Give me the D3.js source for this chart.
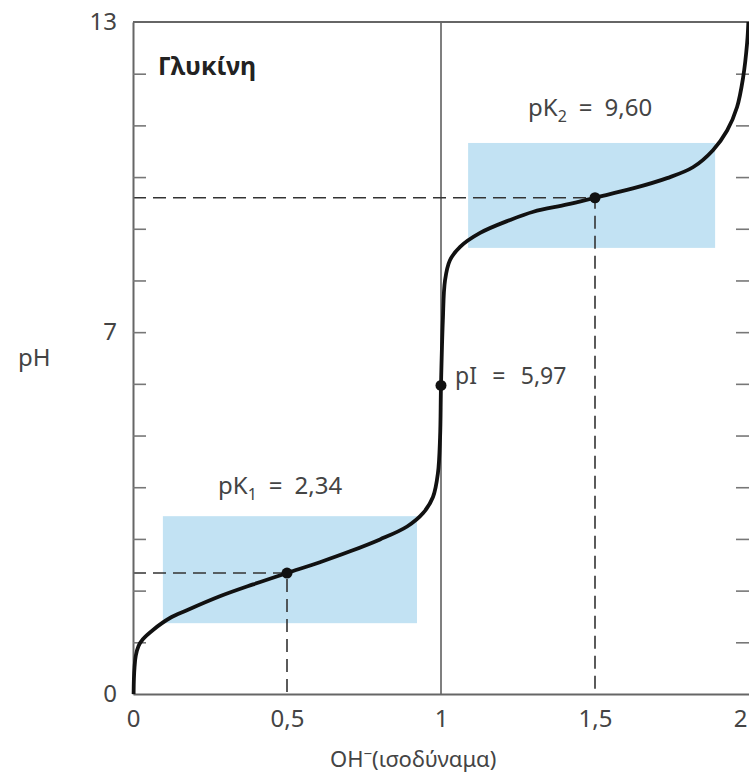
<!DOCTYPE html>
<html>
<head>
<meta charset="utf-8">
<script src="https://cdn.jsdelivr.net/npm/d3@7"></script>
<style>
  body { margin: 0; background: #fff; }
  text { font-family: "Noto Sans", "Open Sans", sans-serif; fill: #444; }
</style>
</head>
<body>
<script>

// titration curve of glycine
var curveOH = [0.002, 0.003, 0.005, 0.009, 0.018, 0.032, 0.065, 0.12, 0.175, 0.282, 0.39, 0.5, 0.607, 0.705, 0.802, 0.89, 0.942, 0.974, 0.990, 0.997, 1.0, 1.006, 1.013, 1.029, 1.062, 1.127, 1.224, 1.30, 1.41, 1.5, 1.623, 1.734, 1.818, 1.883, 1.929, 1.961, 1.981, 1.994, 1.998];
var curvePH = [0, 0.3, 0.52, 0.74, 0.93, 1.06, 1.24, 1.47, 1.62, 1.89, 2.12, 2.34, 2.55, 2.76, 2.99, 3.24, 3.5, 3.81, 4.27, 4.97, 5.97, 7.23, 8.0, 8.39, 8.65, 8.92, 9.17, 9.33, 9.47, 9.6, 9.78, 9.98, 10.19, 10.52, 10.9, 11.35, 11.93, 12.6, 13.0];

// marked points
var pointNames = ["pK1", "pI", "pK2"];
var pointOH = [0.5, 1, 1.5];
var pointPH = [2.34, 5.97, 9.60];

// buffer regions (shaded boxes)
var boxOH0 = [0.097, 1.088];
var boxOH1 = [0.922, 1.89];
var boxPH0 = [1.37, 8.63];
var boxPH1 = [3.44, 10.66];

var xTicks = [0, 0.5, 1, 1.5, 2];
var xTickLabels = ["0", "0,5", "1", "1,5", "2"];
var yLabelTicks = [0, 7, 13];
var yMinorTicks = [1, 2, 3, 4, 5, 6, 7, 8, 9, 10, 11, 12];

var width = 749, height = 779;
var pLeft = 133, pRight = 749, pTop = 22, pBottom = 694;

var x = d3.scaleLinear().domain([0, 2]).range([pLeft, pRight]);
var y = d3.scaleLinear().domain([0, 13]).range([pBottom, pTop]);

var svg = d3.select("body").append("svg")
    .attr("width", width)
    .attr("height", height);

// shaded buffer boxes
svg.selectAll("rect.box")
    .data(boxOH0)
  .enter().append("rect")
    .attr("class", "box")
    .attr("x", function(d, i) { return x(boxOH0[i]); })
    .attr("width", function(d, i) { return x(boxOH1[i]) - x(boxOH0[i]); })
    .attr("y", function(d, i) { return y(boxPH1[i]); })
    .attr("height", function(d, i) { return y(boxPH0[i]) - y(boxPH1[i]); })
    .style("fill", "#c2e2f3");

// vertical line at 1 equivalent
svg.append("line")
    .attr("x1", x(1)).attr("x2", x(1))
    .attr("y1", y(0)).attr("y2", y(13))
    .style("stroke", "#555")
    .style("stroke-width", 1.5);

// dashed guides for pK values
[0, 2].forEach(function(i) {
  svg.append("path")
      .attr("d", "M" + x(0) + "," + y(pointPH[i]) + "H" + x(pointOH[i]) + "V" + y(0))
      .style("fill", "none")
      .style("stroke", "#333")
      .style("stroke-width", 1.6)
      .style("stroke-dasharray", "13,7");
});

// axes
svg.append("g")
    .attr("transform", "translate(0," + pBottom + ")")
    .call(d3.axisBottom(x).tickValues(xTicks).tickSize(0).tickPadding(16)
      .tickFormat(function(d, i) { return xTickLabels[i]; }))
    .call(function(g) {
      g.select(".domain").style("stroke", "#666").style("stroke-width", 2);
      g.selectAll("text").style("font-size", "24px").style("fill", "#444")
        .style("font-family", "'Noto Sans', sans-serif");
      g.selectAll(".tick:last-of-type text").attr("dx", "-9");
    });

svg.append("g")
    .attr("transform", "translate(" + pLeft + ",0)")
    .call(d3.axisLeft(y).tickValues(yLabelTicks).tickSize(0).tickPadding(16))
    .call(function(g) {
      g.select(".domain").style("stroke", "#666").style("stroke-width", 2);
      g.selectAll("text").style("font-size", "24px").style("fill", "#444")
        .style("font-family", "'Noto Sans', sans-serif");
    });

// inner ticks left and right
svg.append("g")
    .attr("transform", "translate(" + pLeft + ",0)")
    .call(d3.axisRight(y).tickValues(yMinorTicks).tickSize(13).tickFormat(""))
    .call(function(g) {
      g.select(".domain").remove();
      g.selectAll("line").style("stroke", "#777").style("stroke-width", 1.6);
    });

svg.append("g")
    .attr("transform", "translate(" + pRight + ",0)")
    .call(d3.axisLeft(y).tickValues(yMinorTicks).tickSize(13).tickFormat(""))
    .call(function(g) {
      g.select(".domain").remove();
      g.selectAll("line").style("stroke", "#777").style("stroke-width", 1.6);
    });

// top frame
svg.append("line")
    .attr("x1", pLeft).attr("x2", pRight)
    .attr("y1", pTop).attr("y2", pTop)
    .style("stroke", "#666")
    .style("stroke-width", 2);

// titration curve
var line = d3.line()
    .x(function(d, i) { return x(curveOH[i]); })
    .y(function(d, i) { return y(curvePH[i]); })
    .curve(d3.curveCatmullRom.alpha(0.5));

svg.append("path")
    .datum(curveOH)
    .attr("d", line)
    .style("fill", "none")
    .style("stroke", "#111")
    .style("stroke-width", 3.8);

svg.selectAll("circle.pt")
    .data(pointNames)
  .enter().append("circle")
    .attr("class", "pt")
    .attr("cx", function(d, i) { return x(pointOH[i]); })
    .attr("cy", function(d, i) { return y(pointPH[i]); })
    .attr("r", 5.5)
    .style("fill", "#111");

// labels
svg.append("text")
    .attr("x", 158).attr("y", 75)
    .style("font-size", "25px")
    .style("font-weight", "bold")
    .style("fill", "#222")
    .text("Γλυκίνη");

function pkLabel(px, py, sub, val) {
  var t = svg.append("text").attr("x", px).attr("y", py).style("font-size", "24px");
  t.append("tspan").text("pK");
  t.append("tspan").attr("dy", 6).style("font-size", "16px").text(sub);
  t.append("tspan").attr("dy", -6).text("\u2002=\u2002" + val);
}
pkLabel(218, 494, "1", "2,34");
pkLabel(528, 116, "2", "9,60");

svg.append("text")
    .attr("x", 455).attr("y", 384)
    .style("font-size", "23px")
    .text("pI\u2002\u2009=\u2002\u20095,97");

svg.append("text")
    .attr("x", 18).attr("y", 366)
    .style("font-size", "24px")
    .text("pH");

var xl = svg.append("text")
    .attr("x", 330).attr("y", 767)
    .style("font-size", "22px");
xl.append("tspan").text("OH");
xl.append("tspan").attr("dy", -8).style("font-size", "15px").text("\u2212");
xl.append("tspan").attr("dy", 8).text("(ισοδύναμα)");

</script>
</body>
</html>
